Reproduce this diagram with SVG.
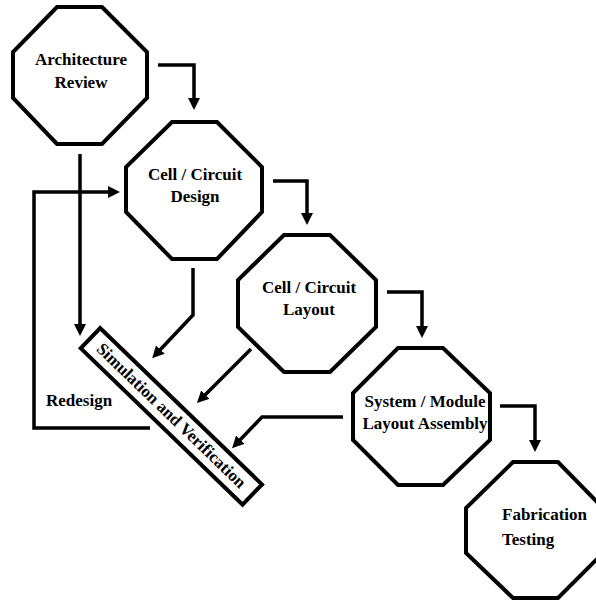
<svg xmlns="http://www.w3.org/2000/svg" width="596" height="600" viewBox="0 0 596 600">
<style>
.oct{fill:#fff;stroke:#000;stroke-width:4;stroke-linejoin:miter}
.t{font-family:"Liberation Serif","Times New Roman",serif;font-weight:bold;font-size:17px;fill:#000}
.c{fill:none;stroke:#000;stroke-width:3.5;marker-end:url(#ah)}
</style>
<defs>
<marker id="ah" viewBox="0 0 12 12" markerWidth="12" markerHeight="12" refX="2" refY="6" orient="auto" markerUnits="userSpaceOnUse">
<path d="M0,0 L12,6 L0,12 z" fill="#000"/>
</marker>
</defs>
<rect width="596" height="600" fill="#fff"/>
<g id="connectors">
<path class="c" d="M158,65 H194 V100"/>
<path class="c" d="M273,181 H307 V215"/>
<path class="c" d="M387,292 H422 V328"/>
<path class="c" d="M500,406 H535 V442"/>
<path class="c" d="M80,154 V326"/>
<path class="c" d="M150,428 H34 V192 H110"/>
<path class="c" d="M193,268 V315 L159,351"/>
<path class="c" d="M251,349 L204,396"/>
<path class="c" d="M343,417 H262 L239,441"/>
</g>
<g id="arch">
<polygon class="oct" points="57,7 102,7 147,52 147,98 102,144 57,144 13,98 13,52"/>
<text class="t" x="81" y="65" text-anchor="middle">Architecture</text>
<text class="t" x="81" y="88" text-anchor="middle">Review</text>
</g>
<g id="design">
<polygon class="oct" points="172,122 217,122 262,167 262,212 217,259 172,259 126,212 126,167"/>
<text class="t" x="195" y="180" text-anchor="middle">Cell / Circuit</text>
<text class="t" x="195" y="202" text-anchor="middle">Design</text>
</g>
<g id="layout">
<polygon class="oct" points="284,235 330,235 376,280 376,327 330,372 284,372 238,327 238,280"/>
<text class="t" x="309" y="293" text-anchor="middle">Cell / Circuit</text>
<text class="t" x="309" y="315" text-anchor="middle">Layout</text>
</g>
<g id="system">
<polygon class="oct" points="398,348 443,348 490,393 490,440 443,485 398,485 353,440 353,393"/>
<text class="t" x="425" y="407" text-anchor="middle">System / Module</text>
<text class="t" x="425" y="429" text-anchor="middle">Layout Assembly</text>
</g>
<g id="fab">
<polygon class="oct" points="513,462 558,462 603,508 603,553 558,598 513,598 466,553 466,508"/>
<text class="t" x="502" y="520">Fabrication</text>
<text class="t" x="502" y="545">Testing</text>
</g>
<g id="sim">
<g transform="translate(171,416) rotate(44)">
<rect x="-112" y="-14" width="225" height="28" fill="#fff" stroke="#000" stroke-width="4"/>
<text class="t" x="0" y="5" text-anchor="middle">Simulation and Verification</text>
</g>
</g>
<g id="redesign">
<text class="t" x="46" y="406">Redesign</text>
</g>
</svg>
